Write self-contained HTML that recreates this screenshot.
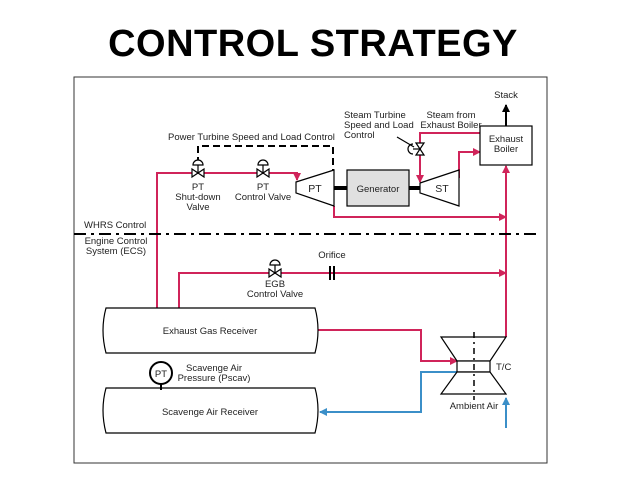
<!DOCTYPE html>
<html><head><style>
html,body{margin:0;padding:0;background:#fff}
svg{display:block}
text{font-family:"Liberation Sans",sans-serif;font-size:9.5px;fill:#222}
</style></head><body>
<svg width="638" height="479" viewBox="0 0 638 479">
<defs>
<marker id="r" markerWidth="8" markerHeight="8" refX="7" refY="4" orient="auto" markerUnits="userSpaceOnUse"><path d="M0,0L8,4L0,8z" fill="#d0245a"/></marker>
<marker id="b" markerWidth="8" markerHeight="8" refX="7" refY="4" orient="auto" markerUnits="userSpaceOnUse"><path d="M0,0L8,4L0,8z" fill="#3b8fc8"/></marker>
<marker id="k" markerWidth="8" markerHeight="8" refX="7" refY="4" orient="auto" markerUnits="userSpaceOnUse"><path d="M0,0L8,4L0,8z" fill="#000"/></marker>
</defs>
<text x="313" y="56" text-anchor="middle" style="font-size:38px;font-weight:bold;fill:#000;font-family:'Liberation Sans',sans-serif;letter-spacing:0.5px">CONTROL  STRATEGY</text>
<rect x="74" y="77" width="473" height="386" fill="none" stroke="#333" stroke-width="1"/>

<g fill="none" stroke="#d0245a" stroke-width="2">
<path d="M157,308V173H297V180" marker-end="url(#r)"/>
<path d="M334,206V217H506" marker-end="url(#r)"/>
<path d="M506,337V166" marker-end="url(#r)"/>
<path d="M459,178V152H480" marker-end="url(#r)"/>
<path d="M480,133H420V182" marker-end="url(#r)"/>
<path d="M179,308V273H506" marker-end="url(#r)"/>
<path d="M318,330H421V361H457" marker-end="url(#r)"/>
</g>
<g fill="none" stroke="#3b8fc8" stroke-width="2">
<path d="M457,372H421V412H320" marker-end="url(#b)"/>
<path d="M506,428V398" marker-end="url(#b)"/>
</g>
<path d="M506,126V105" stroke="#000" stroke-width="2" marker-end="url(#k)"/>

<path d="M198,164V146H333V170" fill="none" stroke="#000" stroke-width="2" stroke-dasharray="7,4"/>
<line x1="74" y1="234" x2="537" y2="234" stroke="#000" stroke-width="2" stroke-dasharray="12,5,3,5"/>

<g stroke="#000" stroke-width="1.2" fill="#fff">
<!-- valves -->
<path d="M192,169L204,177V169L192,177Z"/><path d="M198,173V165"/><path d="M193,165A5,5 0 0 1 203,165Z"/>
<path d="M257,169L269,177V169L257,177Z"/><path d="M263,173V165"/><path d="M258,165A5,5 0 0 1 268,165Z"/>
<path d="M269,269L281,277V269L269,277Z"/><path d="M275,273V265"/><path d="M270,265A5,5 0 0 1 280,265Z"/>
<path d="M416,143L424,155H416L424,143Z"/><path d="M420,149H413"/><path d="M413,144A5,5 0 0 0 413,154"/>
<path d="M397,137L414,147" fill="none"/>
<!-- orifice -->
<path d="M330,266V280M334,266V280" stroke-width="2"/>
<!-- PT -->
<path d="M296,182L334,170V206L296,193Z"/>
<path d="M334,188H347M409,188H420" stroke-width="4"/>
<rect x="347" y="170" width="62" height="36" fill="#e0e0e0"/>
<path d="M420,183L459,170V206L420,193Z"/>
<rect x="480" y="126" width="52" height="39"/>
<!-- receivers -->
<path d="M106,308H315Q321,330 315,353H106Q100,330 106,308Z"/>
<path d="M106,388H315Q321,410 315,433H106Q100,410 106,388Z"/>
<!-- gauge -->
<circle cx="161" cy="373" r="11" stroke-width="2"/>
<path d="M161,384V390" stroke-width="2"/>
<!-- T/C -->
<path d="M441,337H506L490,361H457Z"/>
<rect x="457" y="361" width="33" height="11"/>
<path d="M457,372H490L506,394H441Z"/>
<path d="M474,332V400" stroke-width="1.5" stroke-dasharray="6,4,2,4"/>
</g>

<text x="168" y="140">Power Turbine Speed and Load Control</text>
<text x="198" y="190" text-anchor="middle">PT</text>
<text x="198" y="200" text-anchor="middle">Shut-down</text>
<text x="198" y="210" text-anchor="middle">Valve</text>
<text x="263" y="190" text-anchor="middle">PT</text>
<text x="263" y="200" text-anchor="middle">Control Valve</text>
<text x="315" y="192" text-anchor="middle" style="font-size:10.5px">PT</text>
<text x="378" y="192" text-anchor="middle">Generator</text>
<text x="442" y="192" text-anchor="middle" style="font-size:10.5px">ST</text>
<text x="344" y="118">Steam Turbine</text>
<text x="344" y="128">Speed and Load</text>
<text x="344" y="138">Control</text>
<text x="451" y="118" text-anchor="middle">Steam from</text>
<text x="451" y="128" text-anchor="middle">Exhaust Boiler</text>
<text x="506" y="142" text-anchor="middle">Exhaust</text>
<text x="506" y="152" text-anchor="middle">Boiler</text>
<text x="506" y="98" text-anchor="middle">Stack</text>
<text x="84" y="228">WHRS Control</text>
<text x="116" y="244" text-anchor="middle">Engine Control</text>
<text x="116" y="254" text-anchor="middle">System (ECS)</text>
<text x="332" y="258" text-anchor="middle">Orifice</text>
<text x="275" y="287" text-anchor="middle">EGB</text>
<text x="275" y="297" text-anchor="middle">Control Valve</text>
<text x="210" y="334" text-anchor="middle">Exhaust Gas Receiver</text>
<text x="210" y="415" text-anchor="middle">Scavenge Air Receiver</text>
<text x="161" y="377" text-anchor="middle">PT</text>
<text x="214" y="371" text-anchor="middle">Scavenge Air</text>
<text x="214" y="381" text-anchor="middle">Pressure (Pscav)</text>
<text x="496" y="370">T/C</text>
<text x="474" y="409" text-anchor="middle">Ambient Air</text>
</svg>
</body></html>
